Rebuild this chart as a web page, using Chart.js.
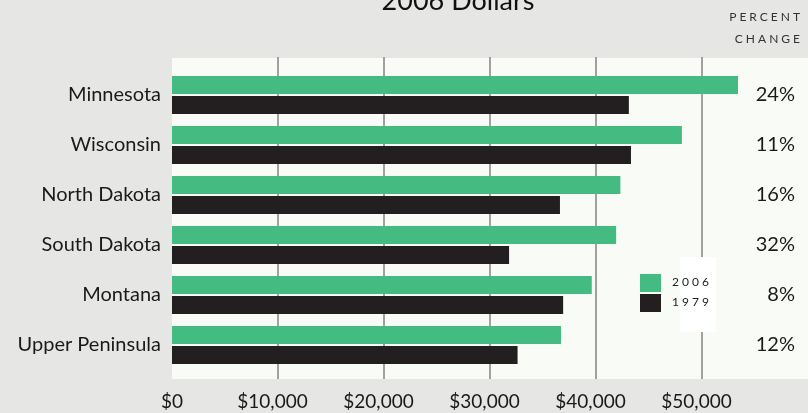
<!DOCTYPE html>
<html>
<head>
<meta charset="utf-8">
<script src="https://cdn.jsdelivr.net/npm/chart.js@4"></script>
<style>
  html, body { margin: 0; padding: 0; background: #e6e7e5; }
  #wrap { width: 808px; height: 413px; }
</style>
</head>
<body>
<div id="wrap"><canvas id="incomeChart"></canvas></div>
<script>
//States / regions, top to bottom
var _regions = ['Minnesota', 'Wisconsin', 'North Dakota', 'South Dakota', 'Montana', 'Upper Peninsula'];
//Income in 2006 dollars
var _income2006 = [53400, 48100, 42300, 41900, 39600, 36700];
var _income1979 = [43100, 43300, 36600, 31800, 36900, 32600];
//Percent change column
var _pctChange = ['24%', '11%', '16%', '32%', '8%', '12%'];
//x axis ticks
var _xTicks = [0, 10000, 20000, 30000, 40000, 50000];

var FONT = 'Lato, "DejaVu Sans", sans-serif';
var GREEN = '#44bb80';
var BLACK = '#231f20';

//background panel + gridlines, drawn under the bars
var panelPlugin = {
    id: 'panel',
    beforeDraw: function(chart) {
        var ctx = chart.ctx, a = chart.chartArea;
        ctx.save();
        ctx.fillStyle = '#e6e7e5';
        ctx.fillRect(0, 0, chart.width, chart.height);
        ctx.fillStyle = '#f9fbf7';
        ctx.fillRect(a.left, a.top - 12, a.right - a.left, a.bottom - a.top + 21);
        ctx.restore();
    },
    beforeDatasetsDraw: function(chart) {
        var ctx = chart.ctx, a = chart.chartArea, x = chart.scales.x;
        ctx.save();
        ctx.strokeStyle = '#8a8a8a';
        ctx.lineWidth = 1.6;
        for (var i = 1; i < _xTicks.length; i++) {
            var px = x.getPixelForValue(_xTicks[i]);
            ctx.beginPath();
            ctx.moveTo(px, a.top - 13);
            ctx.lineTo(px, a.bottom + 9);
            ctx.stroke();
        }
        ctx.restore();
    },
    afterDraw: function(chart) {
        var ctx = chart.ctx, a = chart.chartArea, x = chart.scales.x, y = chart.scales.y;
        ctx.save();
        //title
        ctx.fillStyle = '#111';
        ctx.font = '27px ' + FONT;
        ctx.textAlign = 'center';
        ctx.textBaseline = 'alphabetic';
        ctx.fillText('2006 Dollars', 458, 10);
        //x tick labels: number centred on the gridline, dollar sign hanging left
        ctx.font = '19px ' + FONT;
        ctx.fillStyle = '#1a1a1a';
        ctx.textBaseline = 'middle';
        for (var t = 0; t < _xTicks.length; t++) {
            var num = _xTicks[t].toLocaleString('en-US');
            var px = x.getPixelForValue(_xTicks[t]);
            if (_xTicks[t] === 0) {
                ctx.textAlign = 'center';
                ctx.fillText('$' + num, px, a.bottom + 32);
                continue;
            }
            var w = ctx.measureText(num).width;
            ctx.textAlign = 'left';
            ctx.fillText(num, px - w / 2, a.bottom + 32);
            ctx.textAlign = 'right';
            ctx.fillText('$', px - w / 2, a.bottom + 32);
        }
        //percent change header
        ctx.font = '12px ' + FONT;
        ctx.fillStyle = '#333';
        ctx.letterSpacing = '3px';
        ctx.textAlign = 'right';
        ctx.fillText('PERCENT', 803, 17);
        ctx.fillText('CHANGE', 803, 39);
        ctx.letterSpacing = '0px';
        //percent change values
        ctx.font = '20px ' + FONT;
        ctx.fillStyle = '#1a1a1a';
        for (var i = 0; i < _pctChange.length; i++) {
            ctx.fillText(_pctChange[i], 795, y.getPixelForValue(i));
        }
        //legend with its white backing
        ctx.fillStyle = '#ffffff';
        ctx.fillRect(680, 257, 36, 75);
        var sets = chart.data.datasets;
        ctx.font = '12px ' + FONT;
        ctx.letterSpacing = '3px';
        ctx.textAlign = 'left';
        for (var j = 0; j < sets.length; j++) {
            var top = 274 + j * 20;
            ctx.fillStyle = sets[j].backgroundColor;
            ctx.fillRect(640, top, 21, 18);
            ctx.fillStyle = '#222';
            ctx.fillText(sets[j].label, 672, top + 8);
        }
        ctx.restore();
    }
};

var ctx = document.getElementById('incomeChart').getContext('2d');
var incomeChart = new Chart(ctx, {
    type: 'bar',
    data: {
        labels: _regions,
        datasets: [{
            label: '2006',
            data: _income2006,
            backgroundColor: GREEN,
            categoryPercentage: 0.8,
            barPercentage: 0.9
        }, {
            label: '1979',
            data: _income1979,
            backgroundColor: BLACK,
            categoryPercentage: 0.8,
            barPercentage: 0.9
        }]
    },
    options: {
        indexAxis: 'y',
        responsive: true,
        maintainAspectRatio: false,
        animation: false,
        layout: { padding: { top: 70, right: 0, bottom: 0, left: 0 } },
        plugins: {
            legend: { display: false },
            tooltip: { enabled: false }
        },
        scales: {
            x: {
                min: 0,
                max: 60000,
                grid: { display: false, drawTicks: false },
                border: { display: false },
                afterFit: function(scale) { scale.height = 43; },
                afterBuildTicks: function(scale) {
                    scale.ticks = _xTicks.map(function(v) { return { value: v }; });
                },
                ticks: { display: false }
            },
            y: {
                grid: { display: false, drawTicks: false },
                border: { display: false },
                afterFit: function(scale) { scale.width = 172; },
                ticks: {
                    padding: 11,
                    color: '#1a1a1a',
                    font: { family: FONT, size: 20 }
                }
            }
        }
    },
    plugins: [panelPlugin]
});
</script>
</body>
</html>
